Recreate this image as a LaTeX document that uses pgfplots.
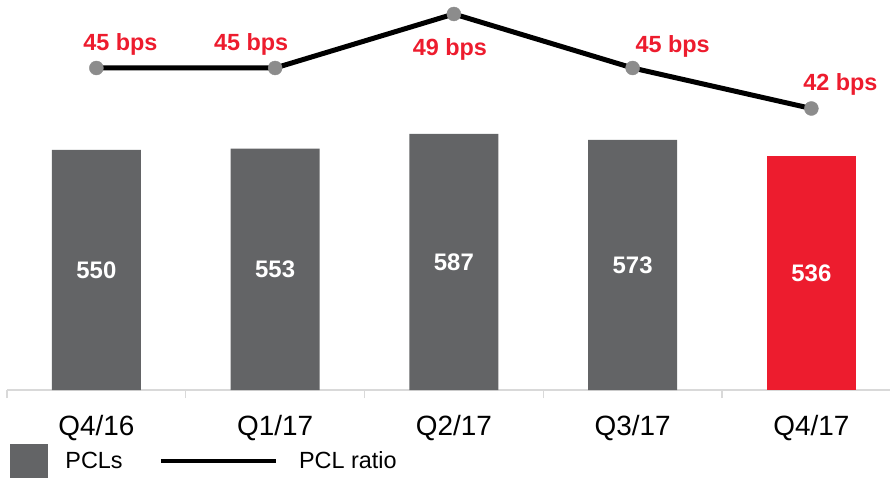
\documentclass[border=0pt]{standalone}
\usepackage{pgfplots}
\usepackage{pgfplotstable}
\pgfplotsset{compat=1.18}
\usepackage{fontspec}
\setmainfont{Liberation Sans}

\definecolor{barGray}{HTML}{636466}
\definecolor{hiRed}{HTML}{ED1C2E}
\definecolor{dotGray}{HTML}{8C8C8C}
\definecolor{axisGray}{HTML}{D9D9D9}

% provisions for credit losses (PCLs) per quarter
\pgfplotstableread{
x v
0 550
1 553
2 587
3 573
4 536
}\pcltable

% PCL ratio in basis points
\pgfplotstableread{
x r
0 45
1 45
2 49
3 45
4 42
}\ratiotable

\pgfplotsset{
  common/.style={
    at={(7bp,88bp)}, anchor=south west,
    scale only axis, width=883bp, height=390bp,
    xmin=-0.5, xmax=4.44,
    clip=false,
    /pgf/number format/assume math mode=true,
  },
}

\begin{document}
\begin{tikzpicture}
\path[use as bounding box] (0bp,0bp) rectangle (890bp,478bp);

\begin{axis}[
  common,
  ymin=0, ymax=893.7,
  axis y line=none,
  axis x line*=bottom,
  x axis line style={axisGray, line width=1.3bp, -},
  xtick={0,...,4},
  xticklabels={Q4/16,Q1/17,Q2/17,Q3/17,Q4/17},
  major tick length=0pt,
  minor xtick={-0.5,0.5,1.5,2.5,3.5},
  minor tick length=8bp,
  tick align=outside,
  minor tick style={axisGray, line width=1.3bp},
  xticklabel style={anchor=base, yshift=-45bp, font=\fontsize{28}{28}\selectfont, inner sep=0pt},
  bar width=89bp,
  legend columns=2,
  legend style={draw=none, fill=none, inner sep=0pt, outer sep=0pt,
    at={(axis description cs:0.0034,-0.182)}, anchor=west,
    font=\fontsize{23.5}{28}\selectfont,
    nodes={inner sep=0pt},
    /tikz/every even column/.append style={column sep=0pt},
    /tikz/every odd column/.append style={column sep=0pt}},
]
\addplot[ybar, bar shift=0pt, fill=barGray, draw=none, forget plot]
  coordinates {(0,550) (1,553) (2,587) (3,573)};
\addplot[ybar, bar shift=0pt, fill=hiRed, draw=none, forget plot]
  coordinates {(4,536)};
% value labels in the middle of each bar
\addplot[only marks, mark=none, forget plot,
  nodes near coords, point meta=explicit,
  nodes near coords style={anchor=center, text=white, inner sep=0pt,
    font=\bfseries\fontsize{24}{24}\selectfont}]
  table[x=x, y expr=\thisrow{v}/2, meta=v] {\pcltable};

\addlegendimage{legend image code/.code={
  \fill[barGray] (0bp,-17bp) rectangle (37bp,17bp);
  \path (55bp,0bp);}}
\addlegendentry{PCLs}
\addlegendimage{legend image code/.code={
  \path (-38bp,0bp);
  \draw[black, line width=3.5bp] (0bp,0bp) -- (115bp,0bp);
  \path (138bp,0bp);}}
\addlegendentry{PCL ratio}
\end{axis}

\begin{axis}[
  common,
  ymin=21.148, ymax=50.037,
  hide axis,
]
\addplot[black, line width=5bp, mark=*, mark size=7bp,
  mark options={fill=dotGray, draw=dotGray, line width=0.4bp}]
  table[x=x, y=r] {\ratiotable};
\tikzset{bpslabel/.style={anchor=base, text=hiRed, inner sep=0pt,
  font=\bfseries\fontsize{23.5}{24}\selectfont}}
\node[bpslabel, xshift=24bp,  yshift=17bp]  at (axis cs:0,45) {45 bps};
\node[bpslabel, xshift=-24bp, yshift=17bp]  at (axis cs:1,45) {45 bps};
\node[bpslabel, xshift=-4bp,  yshift=-42bp] at (axis cs:2,49) {49 bps};
\node[bpslabel, xshift=40bp,  yshift=15bp]  at (axis cs:3,45) {45 bps};
\node[bpslabel, xshift=29bp,  yshift=18bp]  at (axis cs:4,42) {42 bps};
\end{axis}
\end{tikzpicture}
\end{document}
